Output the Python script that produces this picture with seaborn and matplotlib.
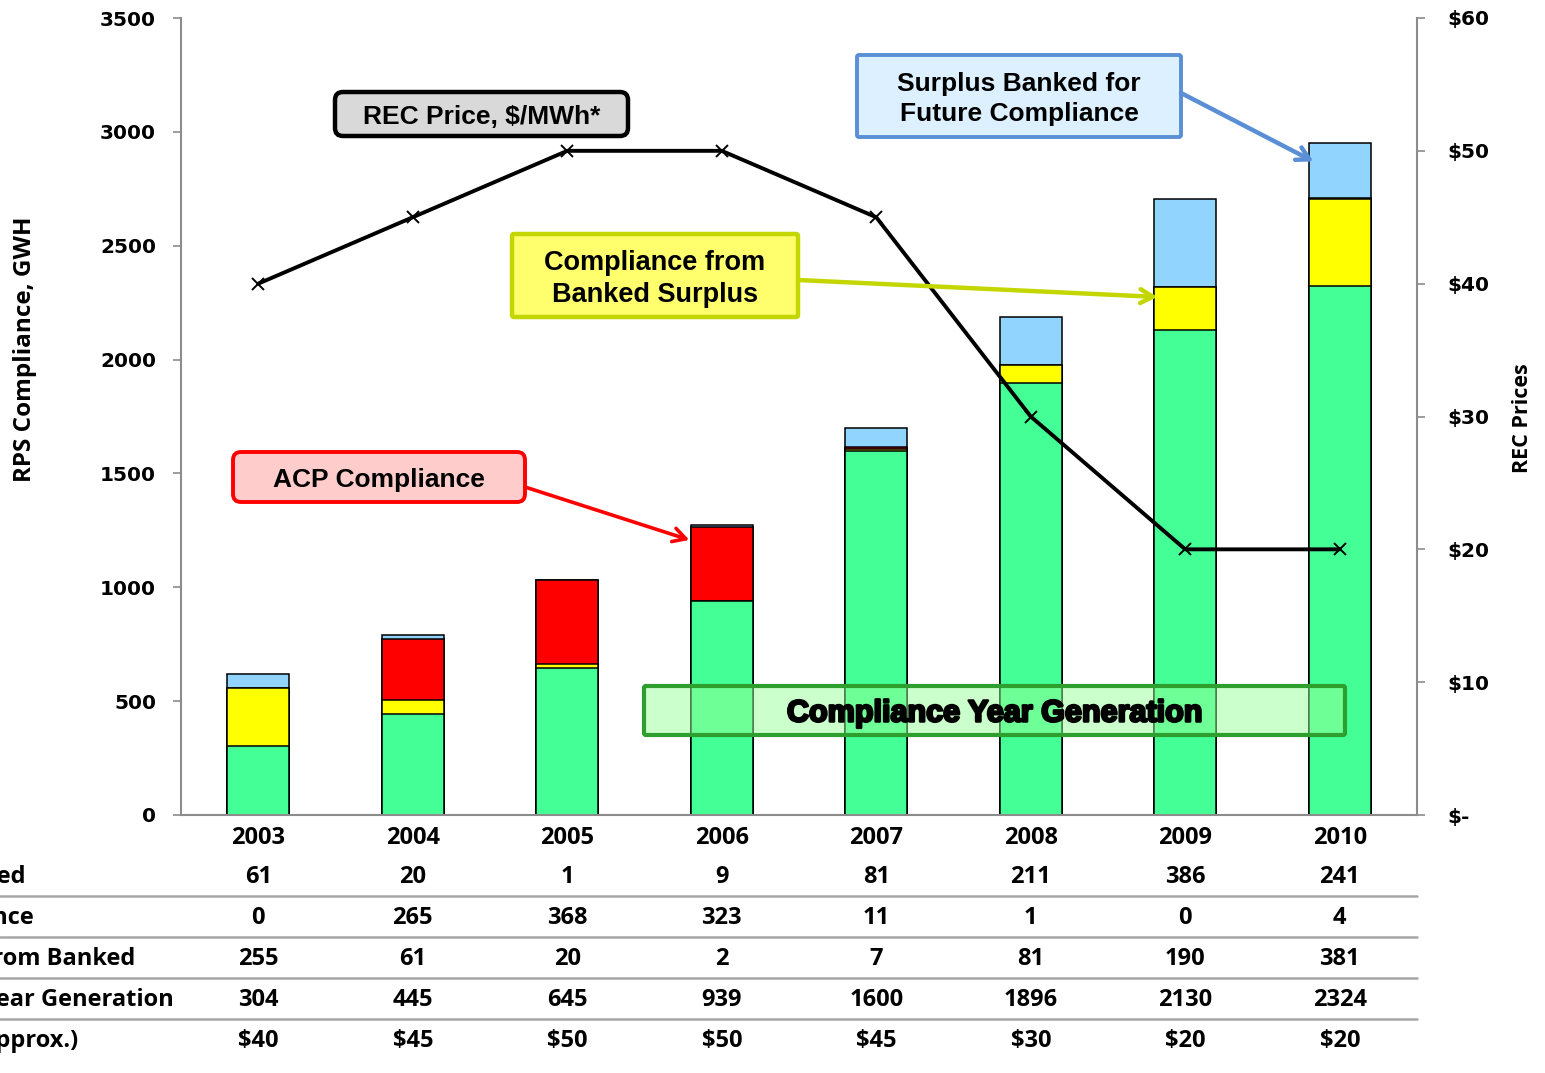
import numpy as np
import pandas as pd
import matplotlib
matplotlib.use("Agg")
import matplotlib.pyplot as plt
import matplotlib.patheffects as pe
from matplotlib.patches import FancyBboxPatch, ConnectionPatch
from matplotlib.lines import Line2D
from matplotlib.transforms import Affine2D, blended_transform_factory
from matplotlib.ticker import FuncFormatter
import seaborn as sns

# ---- data -------------------------------------------------------------
years = ["2003", "2004", "2005", "2006", "2007", "2008", "2009", "2010"]
generation = [304, 445, 645, 939, 1600, 1896, 2130, 2324]     # Compliance Year Generation
from_banked = [255, 61, 20, 2, 7, 81, 190, 381]                # Compliance from Banked
acp = [0, 265, 368, 323, 11, 1, 0, 4]                           # ACP Compliance
surplus = [61, 20, 1, 9, 81, 211, 386, 241]                     # Surplus Banked
rec_price = [40, 45, 50, 50, 45, 30, 20, 20]                    # REC Price, $/MWh

row_labels = ["Surplus Banked", "ACP Compliance", "Compliance from Banked",
              "Compliance Year Generation", "REC Price (approx.)"]

# ---- style ------------------------------------------------------------
sns.set_theme(style="white")
plt.rcParams["font.family"] = ["Open Sans", "DejaVu Sans"]
plt.rcParams["font.weight"] = "bold"
for key in ["text.color", "axes.labelcolor", "xtick.color", "ytick.color"]:
    plt.rcParams[key] = "black"

W, H = 1545, 1073
fig = plt.figure(figsize=(W / 100, H / 100), dpi=100)
# pixel coordinates measured from the top-left corner
pxT = Affine2D().scale(1, -1).translate(0, H).scale(1 / W, 1 / H) + fig.transFigure

ax = fig.add_axes([181 / W, 258 / H, 1236 / W, 797 / H])

C_GREEN, C_YELLOW, C_RED, C_BLUE = "#44ff96", "#ffff00", "#ff0000", "#91d5ff"

df = pd.DataFrame({"year": years, "generation": generation,
                   "from_banked": from_banked, "acp": acp, "surplus": surplus})
df["c_gen"] = df["generation"]
df["c_bank"] = df["c_gen"] + df["from_banked"]
df["c_acp"] = df["c_bank"] + df["acp"]
df["c_total"] = df["c_acp"] + df["surplus"]

# stacked bars: draw cumulative layers from the top down
for col, color in [("c_total", C_BLUE), ("c_acp", C_RED),
                   ("c_bank", C_YELLOW), ("c_gen", C_GREEN)]:
    sns.barplot(data=df, x="year", y=col, color=color, saturation=1,
                width=0.4, edgecolor="black", linewidth=1.1,
                errorbar=None, ax=ax)

ax.set_xlim(-0.5, 7.5)
ax.set_ylim(0, 3500)
ax.set_yticks(np.arange(0, 3501, 500))
ax.set_xlabel("")
ax.set_ylabel("")
for s in ["top", "right"]:
    ax.spines[s].set_visible(False)
for s in ["left", "bottom"]:
    ax.spines[s].set_color("#8c8c8c")
    ax.spines[s].set_linewidth(1.5)
ax.tick_params(axis="y", direction="out", length=6, width=1.2, color="#8c8c8c",
               pad=12, labelsize=14.5, labelfontfamily="DejaVu Sans", labelcolor="black")
ax.tick_params(axis="x", length=0, pad=8, labelsize=17, labelcolor="black")
for lbl in ax.get_yticklabels() + ax.get_xticklabels():
    lbl.set_fontweight("bold")

# REC price line on secondary axis
ax2 = ax.twinx()
sns.lineplot(x=np.arange(len(years)), y=rec_price, ax=ax2, color="black",
             linewidth=2.8, marker="x", markersize=9, markeredgewidth=1.4,
             markeredgecolor="black")
ax2.set_xlim(-0.5, 7.5)
ax2.set_ylim(0, 60)
ax2.set_yticks(np.arange(0, 61, 10))
ax2.yaxis.set_major_formatter(FuncFormatter(lambda v, p: "$-" if v == 0 else f"${v:.0f}"))
ax2.set_ylabel("")
for s in ["top", "left", "bottom"]:
    ax2.spines[s].set_visible(False)
ax2.spines["right"].set_color("#8c8c8c")
ax2.spines["right"].set_linewidth(1.5)
ax2.tick_params(axis="y", direction="out", length=6, width=1.2, color="#8c8c8c",
                pad=16, labelsize=14.5, labelfontfamily="DejaVu Sans", labelcolor="black")
for lbl in ax2.get_yticklabels():
    lbl.set_fontweight("bold")

# axis titles
fig.text(25, 349, "RPS Compliance, GWH", rotation=90, ha="center", va="center",
         transform=pxT, fontsize=17.5, fontweight="bold")
fig.text(1522, 418, "REC Prices", rotation=90, ha="center", va="center",
         transform=pxT, fontsize=15.5, fontweight="bold")

# ---- data table under the chart --------------------------------------
row_y = [877, 918, 959, 1000, 1041]
label_end = [25, 34, 135, 174, 78]
row_values = [surplus, acp, from_banked, generation,
              [f"${p}" for p in rec_price]]
tabT = blended_transform_factory(ax.transData, pxT)
for label, y, xe, vals in zip(row_labels, row_y, label_end, row_values):
    fig.text(xe, y, label, ha="right", va="center", transform=pxT,
             fontsize=17, fontweight="bold")
    for i, v in enumerate(vals):
        ax.text(i, y, str(v), ha="center", va="center", transform=tabT,
                fontsize=17, fontweight="bold", clip_on=False)
for y in [896, 937, 978, 1019]:
    fig.add_artist(Line2D([0, 1417], [y, y], transform=pxT,
                          color="#a6a6a6", linewidth=1.8))

# ---- callout boxes and arrows ----------------------------------------
def callout(x0, y0, x1, y1, text, face, edge, lw, rounding, fs, **kw):
    box = FancyBboxPatch((x0, y0), x1 - x0, y1 - y0,
                         boxstyle=f"round,pad=0,rounding_size={rounding}",
                         transform=pxT, facecolor=face, edgecolor=edge,
                         linewidth=lw, zorder=5)
    fig.add_artist(box)
    t = fig.text((x0 + x1) / 2, (y0 + y1) / 2 + 3, text, ha="center", va="center",
                 transform=pxT, fontsize=fs, fontweight="bold", color="black",
                 family=["Liberation Sans", "DejaVu Sans"], zorder=6,
                 linespacing=1.3, **kw)
    return t


def arrow(start_px, tip_data, color, lw):
    con = ConnectionPatch(xyA=start_px, coordsA=pxT, xyB=tip_data,
                          coordsB=ax.transData, arrowstyle="->,head_length=0.9,head_width=0.5",
                          color=color, linewidth=lw, zorder=5)
    fig.add_artist(con)


callout(335, 92, 628, 136, "REC Price, $/MWh*", "#d9d9d9", "black", 3.2, 8, 19)

callout(512, 234, 798, 317, "Compliance from\nBanked Surplus", "#ffff6e", "#c4d600",
        3.2, 2, 19.5)
arrow((798, 280), (5.82, 2275), "#c4d600", 3.2)

callout(233, 452, 525, 502, "ACP Compliance", "#ffcccc", "#ff0000", 2.8, 8, 19)
arrow((525, 487), (2.79, 1208), "#ff0000", 2.6)

callout(857, 55, 1181, 137, "Surplus Banked for\nFuture Compliance", "#dcf0ff", "#5a8fd6",
        2.8, 2, 19)
arrow((1181, 93), (6.83, 2870), "#5a8fd6", 3.2)

callout(644, 686, 1345, 735, "Compliance Year Generation", (0.6, 1.0, 0.6, 0.5),
        "#2e9e2e", 3.0, 2, 22,
        path_effects=[pe.withStroke(linewidth=1.8, foreground="black")])

fig.savefig("out.png", dpi=100)
